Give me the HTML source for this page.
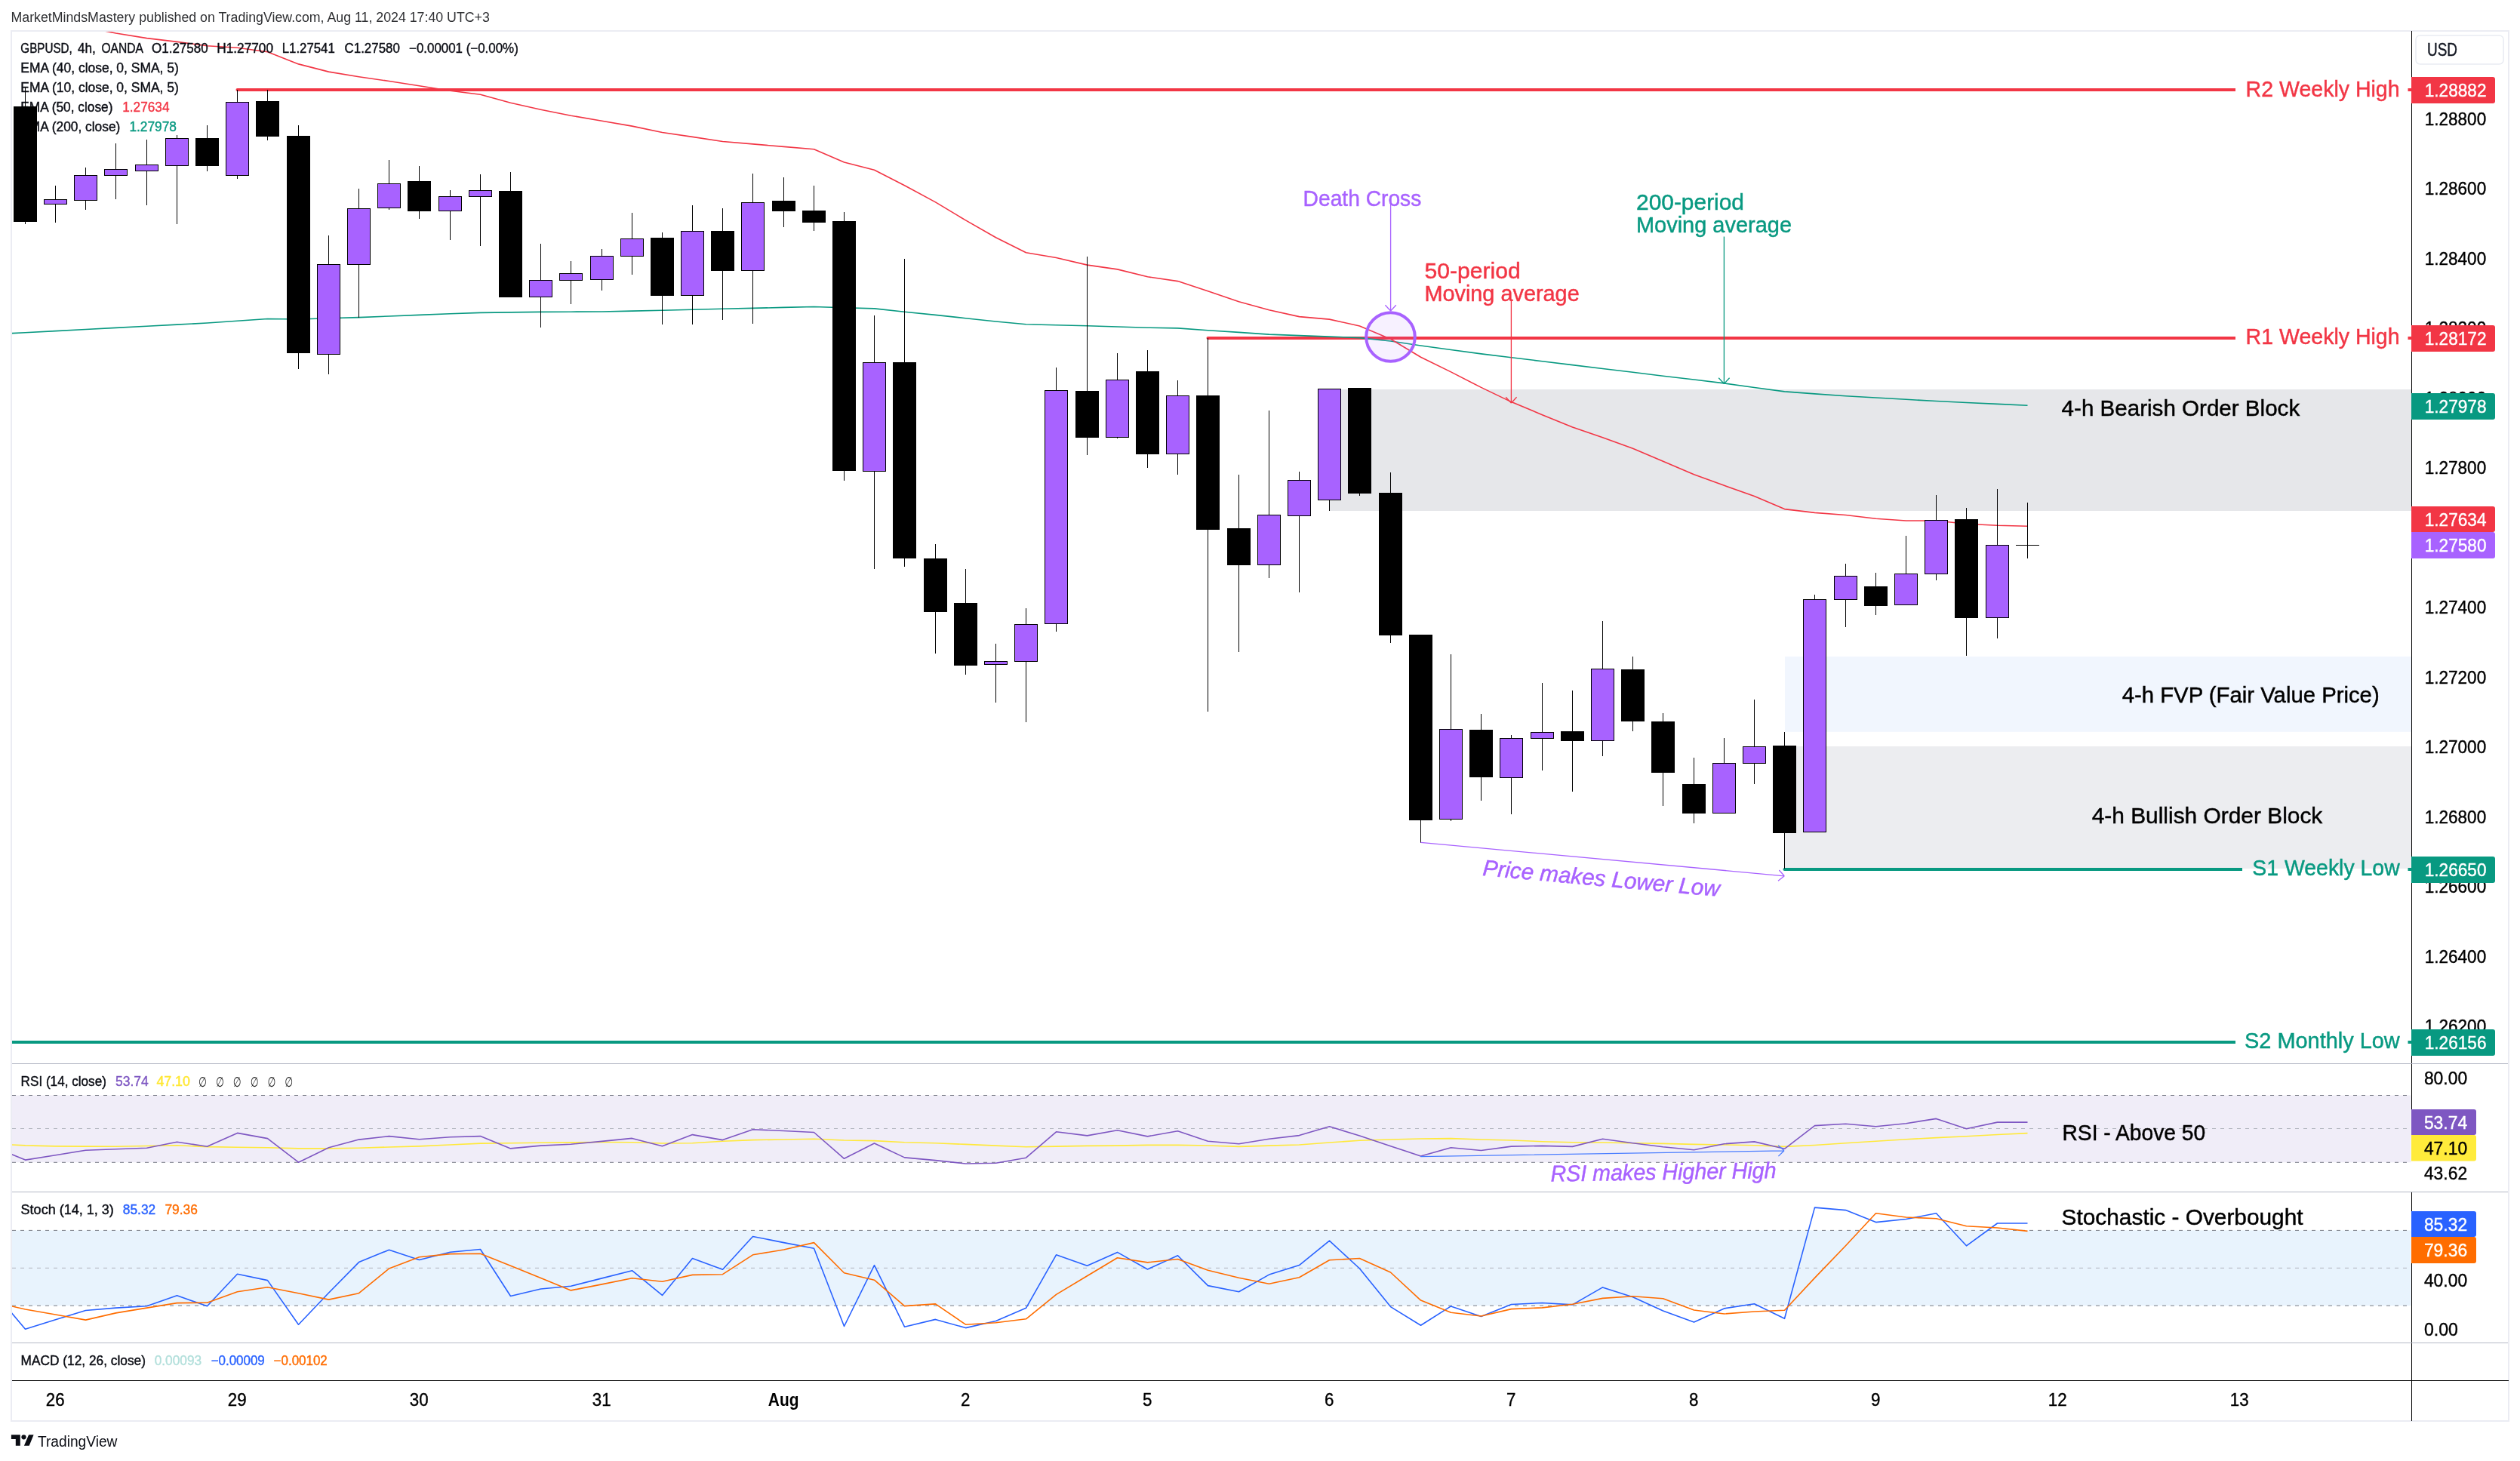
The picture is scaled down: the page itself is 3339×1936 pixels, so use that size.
<!DOCTYPE html>
<html lang="en"><head><meta charset="utf-8"><title>GBPUSD 4h chart</title>
<style>html,body{margin:0;padding:0;background:#fff}body{width:3339px;height:1936px;overflow:hidden}</style>
</head><body>
<svg width="3339" height="1936" viewBox="0 0 3339 1936" font-family='"Liberation Sans", "DejaVu Sans", sans-serif' style="display:block;will-change:transform">
<defs><clipPath id="cm"><rect x="16" y="42" width="3179" height="1367"/></clipPath><clipPath id="cr"><rect x="16" y="1410" width="3179" height="169"/></clipPath><clipPath id="cs"><rect x="16" y="1580" width="3179" height="199"/></clipPath></defs>
<text x="14.5" y="29.2" font-size="18" fill="#2f3033" textLength="634.3" lengthAdjust="spacingAndGlyphs">MarketMindsMastery published on TradingView.com, Aug 11, 2024 17:40 UTC+3</text>
<rect x="15" y="41" width="3309" height="1842" fill="none" stroke="#ebecf3" stroke-width="2"/>
<g clip-path="url(#cm)">
<rect x="1762" y="516" width="1433" height="161" fill="#e6e7ea"/>
<rect x="2365" y="870" width="830" height="99.8" fill="#f1f6fe"/>
<rect x="2365" y="989" width="830" height="162" fill="#ecedf0"/>
<line x1="314.5" y1="119" x2="2962" y2="119" stroke="#f23645" stroke-width="4"/>
<circle cx="314.5" cy="119" r="2" fill="#f23645"/>
<line x1="1600.5" y1="448" x2="2962" y2="448" stroke="#f23645" stroke-width="4"/>
<circle cx="1600.5" cy="448" r="2" fill="#f23645"/>
<line x1="2364.5" y1="1152" x2="2971" y2="1152" stroke="#089981" stroke-width="4"/>
<circle cx="2364.5" cy="1152" r="2" fill="#089981"/>
<line x1="10" y1="1381" x2="2962" y2="1381" stroke="#089981" stroke-width="4"/>
<circle cx="10" cy="1381" r="2" fill="#089981"/>
<line x1="3190.5" y1="119" x2="3196" y2="119" stroke="#f23645" stroke-width="4"/>
<line x1="3190.5" y1="448" x2="3196" y2="448" stroke="#f23645" stroke-width="4"/>
<line x1="3190.5" y1="1152" x2="3196" y2="1152" stroke="#089981" stroke-width="4"/>
<line x1="3190.5" y1="1381" x2="3196" y2="1381" stroke="#089981" stroke-width="4"/>
<polyline points="15.3,441.7 33.5,440.8 73.5,438.6 113.5,436.5 153.5,434.4 194.5,432.2 234.5,430.1 274.5,428.0 314.5,425.2 354.5,422.5 395.5,423.0 435.5,421.8 475.5,420.6 515.5,419.0 555.5,417.4 596.5,415.8 636.5,414.4 676.5,413.9 716.5,413.4 756.5,413.2 797.5,413.0 837.5,412.1 877.5,411.2 917.5,410.3 957.5,409.3 997.5,408.4 1038.5,407.4 1078.5,406.5 1118.5,407.7 1158.5,408.9 1198.5,413.2 1239.5,417.4 1279.5,421.7 1319.5,426.0 1359.5,429.8 1399.5,430.8 1440.5,431.8 1480.5,433.0 1520.5,434.2 1560.5,434.9 1600.5,437.8 1641.5,440.4 1681.5,443.1 1721.5,444.6 1761.5,446.1 1801.5,447.6 1842.5,452.0 1882.5,458.0 1922.5,463.5 1962.5,468.9 2002.5,473.8 2043.5,478.7 2083.5,483.6 2123.5,488.5 2163.5,493.3 2203.5,498.2 2244.5,503.0 2284.5,507.9 2324.5,513.5 2364.5,518.9 2404.5,521.9 2445.5,524.7 2485.5,527.0 2525.5,529.3 2565.5,531.5 2605.5,533.5 2646.5,535.4 2686.5,537.2" fill="none" stroke="#089981" stroke-width="1.6" stroke-linejoin="round"/>
<polyline points="113.5,36.0 153.5,44.0 194.5,50.6 234.5,55.4 274.5,60.8 314.5,63.3 354.5,68.7 395.5,84.9 435.5,95.1 475.5,101.7 515.5,107.5 555.5,113.8 596.5,120.2 636.5,125.2 676.5,136.3 716.5,145.2 756.5,153.2 797.5,160.2 837.5,167.1 877.5,175.5 917.5,181.4 957.5,187.5 997.5,190.9 1038.5,194.4 1078.5,197.8 1118.5,214.9 1158.5,225.2 1198.5,245.7 1239.5,267.9 1279.5,291.9 1319.5,314.8 1359.5,334.7 1399.5,341.5 1440.5,351.1 1480.5,356.9 1520.5,366.8 1560.5,372.6 1600.5,385.7 1641.5,399.8 1681.5,410.7 1721.5,419.6 1761.5,423.1 1801.5,432.0 1842.5,449.3 1882.5,473.2 1922.5,492.9 1962.5,513.4 2002.5,532.6 2043.5,549.7 2083.5,566.1 2123.5,579.8 2163.5,594.2 2203.5,611.3 2244.5,628.8 2284.5,643.3 2324.5,657.5 2364.5,674.6 2404.5,679.4 2445.5,682.5 2485.5,687.3 2525.5,690.0 2565.5,690.0 2605.5,694.3 2646.5,696.3 2686.5,697.2" fill="none" stroke="#f23645" stroke-width="1.6" stroke-linejoin="round"/>
<text x="27.3" y="69.8" font-size="18" fill="#0b0d14" stroke="#0b0d14" stroke-width="0.4" textLength="68.5" lengthAdjust="spacingAndGlyphs">GBPUSD,</text>
<text x="103.0" y="69.8" font-size="18" fill="#0b0d14" stroke="#0b0d14" stroke-width="0.4" textLength="23.8" lengthAdjust="spacingAndGlyphs">4h,</text>
<text x="134.5" y="69.8" font-size="18" fill="#0b0d14" stroke="#0b0d14" stroke-width="0.4" textLength="55.3" lengthAdjust="spacingAndGlyphs">OANDA</text>
<text x="201.0" y="69.8" font-size="18" fill="#0b0d14" stroke="#0b0d14" stroke-width="0.4" textLength="74.7" lengthAdjust="spacingAndGlyphs">O1.27580</text>
<text x="287.3" y="69.8" font-size="18" fill="#0b0d14" stroke="#0b0d14" stroke-width="0.4" textLength="74.7" lengthAdjust="spacingAndGlyphs">H1.27700</text>
<text x="373.7" y="69.8" font-size="18" fill="#0b0d14" stroke="#0b0d14" stroke-width="0.4" textLength="70.1" lengthAdjust="spacingAndGlyphs">L1.27541</text>
<text x="456.6" y="69.8" font-size="18" fill="#0b0d14" stroke="#0b0d14" stroke-width="0.4" textLength="73.2" lengthAdjust="spacingAndGlyphs">C1.27580</text>
<text x="542.0" y="69.8" font-size="18" fill="#0b0d14" stroke="#0b0d14" stroke-width="0.4" textLength="144.8" lengthAdjust="spacingAndGlyphs">−0.00001 (−0.00%)</text>
<text x="27.3" y="96.0" font-size="18" fill="#0b0d14" stroke="#0b0d14" stroke-width="0.4" textLength="209.5" lengthAdjust="spacingAndGlyphs">EMA (40, close, 0, SMA, 5)</text>
<text x="27.3" y="122.0" font-size="18" fill="#0b0d14" stroke="#0b0d14" stroke-width="0.4" textLength="209.5" lengthAdjust="spacingAndGlyphs">EMA (10, close, 0, SMA, 5)</text>
<text x="27.3" y="147.9" font-size="18" fill="#0b0d14" stroke="#0b0d14" stroke-width="0.4" textLength="122.2" lengthAdjust="spacingAndGlyphs">EMA (50, close)</text>
<text x="162.2" y="147.9" font-size="18" fill="#f23645" stroke="#f23645" stroke-width="0.4" textLength="62.3" lengthAdjust="spacingAndGlyphs">1.27634</text>
<text x="27.3" y="173.7" font-size="18" fill="#0b0d14" stroke="#0b0d14" stroke-width="0.4" textLength="132.0" lengthAdjust="spacingAndGlyphs">EMA (200, close)</text>
<text x="171.4" y="173.7" font-size="18" fill="#089981" stroke="#089981" stroke-width="0.4" textLength="62.6" lengthAdjust="spacingAndGlyphs">1.27978</text>
<g shape-rendering="crispEdges">
<rect x="33" y="116" width="1" height="181" fill="#000"/>
<rect x="18" y="141" width="31" height="153" fill="#000"/>
<rect x="73" y="246" width="1" height="49" fill="#000"/>
<rect x="58" y="264" width="31" height="7" fill="#000"/>
<rect x="59" y="265" width="29" height="5" fill="#a862ff"/>
<rect x="113" y="222" width="1" height="56" fill="#000"/>
<rect x="98" y="232" width="31" height="34" fill="#000"/>
<rect x="99" y="233" width="29" height="32" fill="#a862ff"/>
<rect x="153" y="190" width="1" height="74" fill="#000"/>
<rect x="138" y="224" width="31" height="9" fill="#000"/>
<rect x="139" y="225" width="29" height="7" fill="#a862ff"/>
<rect x="194" y="185" width="1" height="87" fill="#000"/>
<rect x="179" y="218" width="31" height="9" fill="#000"/>
<rect x="180" y="219" width="29" height="7" fill="#a862ff"/>
<rect x="234" y="179" width="1" height="118" fill="#000"/>
<rect x="219" y="183" width="31" height="37" fill="#000"/>
<rect x="220" y="184" width="29" height="35" fill="#a862ff"/>
<rect x="274" y="166" width="1" height="61" fill="#000"/>
<rect x="259" y="183" width="31" height="37" fill="#000"/>
<rect x="314" y="119" width="1" height="118" fill="#000"/>
<rect x="299" y="135" width="31" height="98" fill="#000"/>
<rect x="300" y="136" width="29" height="96" fill="#a862ff"/>
<rect x="354" y="119" width="1" height="67" fill="#000"/>
<rect x="339" y="134" width="31" height="47" fill="#000"/>
<rect x="395" y="166" width="1" height="323" fill="#000"/>
<rect x="380" y="180" width="31" height="288" fill="#000"/>
<rect x="435" y="312" width="1" height="184" fill="#000"/>
<rect x="420" y="350" width="31" height="120" fill="#000"/>
<rect x="421" y="351" width="29" height="118" fill="#a862ff"/>
<rect x="475" y="250" width="1" height="171" fill="#000"/>
<rect x="460" y="276" width="31" height="75" fill="#000"/>
<rect x="461" y="277" width="29" height="73" fill="#a862ff"/>
<rect x="515" y="212" width="1" height="66" fill="#000"/>
<rect x="500" y="243" width="31" height="33" fill="#000"/>
<rect x="501" y="244" width="29" height="31" fill="#a862ff"/>
<rect x="555" y="220" width="1" height="70" fill="#000"/>
<rect x="540" y="240" width="31" height="40" fill="#000"/>
<rect x="596" y="252" width="1" height="66" fill="#000"/>
<rect x="581" y="260" width="31" height="20" fill="#000"/>
<rect x="582" y="261" width="29" height="18" fill="#a862ff"/>
<rect x="636" y="231" width="1" height="95" fill="#000"/>
<rect x="621" y="252" width="31" height="9" fill="#000"/>
<rect x="622" y="253" width="29" height="7" fill="#a862ff"/>
<rect x="676" y="228" width="1" height="166" fill="#000"/>
<rect x="661" y="253" width="31" height="141" fill="#000"/>
<rect x="716" y="323" width="1" height="111" fill="#000"/>
<rect x="701" y="371" width="31" height="23" fill="#000"/>
<rect x="702" y="372" width="29" height="21" fill="#a862ff"/>
<rect x="756" y="346" width="1" height="57" fill="#000"/>
<rect x="741" y="362" width="31" height="10" fill="#000"/>
<rect x="742" y="363" width="29" height="8" fill="#a862ff"/>
<rect x="797" y="330" width="1" height="55" fill="#000"/>
<rect x="782" y="339" width="31" height="32" fill="#000"/>
<rect x="783" y="340" width="29" height="30" fill="#a862ff"/>
<rect x="837" y="282" width="1" height="82" fill="#000"/>
<rect x="822" y="316" width="31" height="24" fill="#000"/>
<rect x="823" y="317" width="29" height="22" fill="#a862ff"/>
<rect x="877" y="308" width="1" height="122" fill="#000"/>
<rect x="862" y="315" width="31" height="77" fill="#000"/>
<rect x="917" y="272" width="1" height="158" fill="#000"/>
<rect x="902" y="306" width="31" height="86" fill="#000"/>
<rect x="903" y="307" width="29" height="84" fill="#a862ff"/>
<rect x="957" y="276" width="1" height="148" fill="#000"/>
<rect x="942" y="306" width="31" height="53" fill="#000"/>
<rect x="997" y="230" width="1" height="199" fill="#000"/>
<rect x="982" y="268" width="31" height="91" fill="#000"/>
<rect x="983" y="269" width="29" height="89" fill="#a862ff"/>
<rect x="1038" y="235" width="1" height="66" fill="#000"/>
<rect x="1023" y="266" width="31" height="14" fill="#000"/>
<rect x="1078" y="246" width="1" height="60" fill="#000"/>
<rect x="1063" y="279" width="31" height="16" fill="#000"/>
<rect x="1118" y="281" width="1" height="356" fill="#000"/>
<rect x="1103" y="293" width="31" height="331" fill="#000"/>
<rect x="1158" y="418" width="1" height="336" fill="#000"/>
<rect x="1143" y="480" width="31" height="145" fill="#000"/>
<rect x="1144" y="481" width="29" height="143" fill="#a862ff"/>
<rect x="1198" y="343" width="1" height="408" fill="#000"/>
<rect x="1183" y="480" width="31" height="260" fill="#000"/>
<rect x="1239" y="721" width="1" height="145" fill="#000"/>
<rect x="1224" y="740" width="31" height="71" fill="#000"/>
<rect x="1279" y="754" width="1" height="140" fill="#000"/>
<rect x="1264" y="799" width="31" height="83" fill="#000"/>
<rect x="1319" y="853" width="1" height="78" fill="#000"/>
<rect x="1304" y="876" width="31" height="5" fill="#000"/>
<rect x="1305" y="877" width="29" height="3" fill="#a862ff"/>
<rect x="1359" y="806" width="1" height="151" fill="#000"/>
<rect x="1344" y="827" width="31" height="50" fill="#000"/>
<rect x="1345" y="828" width="29" height="48" fill="#a862ff"/>
<rect x="1399" y="487" width="1" height="350" fill="#000"/>
<rect x="1384" y="517" width="31" height="310" fill="#000"/>
<rect x="1385" y="518" width="29" height="308" fill="#a862ff"/>
<rect x="1440" y="340" width="1" height="263" fill="#000"/>
<rect x="1425" y="518" width="31" height="62" fill="#000"/>
<rect x="1480" y="468" width="1" height="113" fill="#000"/>
<rect x="1465" y="503" width="31" height="77" fill="#000"/>
<rect x="1466" y="504" width="29" height="75" fill="#a862ff"/>
<rect x="1520" y="464" width="1" height="156" fill="#000"/>
<rect x="1505" y="492" width="31" height="110" fill="#000"/>
<rect x="1560" y="504" width="1" height="125" fill="#000"/>
<rect x="1545" y="524" width="31" height="78" fill="#000"/>
<rect x="1546" y="525" width="29" height="76" fill="#a862ff"/>
<rect x="1600" y="448" width="1" height="495" fill="#000"/>
<rect x="1585" y="524" width="31" height="178" fill="#000"/>
<rect x="1641" y="629" width="1" height="235" fill="#000"/>
<rect x="1626" y="700" width="31" height="49" fill="#000"/>
<rect x="1681" y="544" width="1" height="222" fill="#000"/>
<rect x="1666" y="682" width="31" height="67" fill="#000"/>
<rect x="1667" y="683" width="29" height="65" fill="#a862ff"/>
<rect x="1721" y="625" width="1" height="160" fill="#000"/>
<rect x="1706" y="636" width="31" height="48" fill="#000"/>
<rect x="1707" y="637" width="29" height="46" fill="#a862ff"/>
<rect x="1761" y="515" width="1" height="162" fill="#000"/>
<rect x="1746" y="515" width="31" height="148" fill="#000"/>
<rect x="1747" y="516" width="29" height="146" fill="#a862ff"/>
<rect x="1801" y="514" width="1" height="143" fill="#000"/>
<rect x="1786" y="514" width="31" height="140" fill="#000"/>
<rect x="1842" y="626" width="1" height="226" fill="#000"/>
<rect x="1827" y="653" width="31" height="189" fill="#000"/>
<rect x="1882" y="841" width="1" height="276" fill="#000"/>
<rect x="1867" y="841" width="31" height="246" fill="#000"/>
<rect x="1922" y="867" width="1" height="221" fill="#000"/>
<rect x="1907" y="966" width="31" height="120" fill="#000"/>
<rect x="1908" y="967" width="29" height="118" fill="#a862ff"/>
<rect x="1962" y="946" width="1" height="115" fill="#000"/>
<rect x="1947" y="967" width="31" height="63" fill="#000"/>
<rect x="2002" y="974" width="1" height="105" fill="#000"/>
<rect x="1987" y="978" width="31" height="53" fill="#000"/>
<rect x="1988" y="979" width="29" height="51" fill="#a862ff"/>
<rect x="2043" y="905" width="1" height="116" fill="#000"/>
<rect x="2028" y="970" width="31" height="9" fill="#000"/>
<rect x="2029" y="971" width="29" height="7" fill="#a862ff"/>
<rect x="2083" y="915" width="1" height="134" fill="#000"/>
<rect x="2068" y="969" width="31" height="13" fill="#000"/>
<rect x="2123" y="823" width="1" height="179" fill="#000"/>
<rect x="2108" y="886" width="31" height="96" fill="#000"/>
<rect x="2109" y="887" width="29" height="94" fill="#a862ff"/>
<rect x="2163" y="870" width="1" height="99" fill="#000"/>
<rect x="2148" y="887" width="31" height="69" fill="#000"/>
<rect x="2203" y="945" width="1" height="123" fill="#000"/>
<rect x="2188" y="956" width="31" height="68" fill="#000"/>
<rect x="2244" y="1004" width="1" height="87" fill="#000"/>
<rect x="2229" y="1039" width="31" height="39" fill="#000"/>
<rect x="2284" y="978" width="1" height="99" fill="#000"/>
<rect x="2269" y="1011" width="31" height="67" fill="#000"/>
<rect x="2270" y="1012" width="29" height="65" fill="#a862ff"/>
<rect x="2324" y="927" width="1" height="112" fill="#000"/>
<rect x="2309" y="989" width="31" height="23" fill="#000"/>
<rect x="2310" y="990" width="29" height="21" fill="#a862ff"/>
<rect x="2364" y="970" width="1" height="181" fill="#000"/>
<rect x="2349" y="988" width="31" height="116" fill="#000"/>
<rect x="2404" y="788" width="1" height="315" fill="#000"/>
<rect x="2389" y="794" width="31" height="309" fill="#000"/>
<rect x="2390" y="795" width="29" height="307" fill="#a862ff"/>
<rect x="2445" y="747" width="1" height="84" fill="#000"/>
<rect x="2430" y="763" width="31" height="32" fill="#000"/>
<rect x="2431" y="764" width="29" height="30" fill="#a862ff"/>
<rect x="2485" y="759" width="1" height="56" fill="#000"/>
<rect x="2470" y="777" width="31" height="26" fill="#000"/>
<rect x="2525" y="710" width="1" height="92" fill="#000"/>
<rect x="2510" y="760" width="31" height="42" fill="#000"/>
<rect x="2511" y="761" width="29" height="40" fill="#a862ff"/>
<rect x="2565" y="656" width="1" height="113" fill="#000"/>
<rect x="2550" y="689" width="31" height="72" fill="#000"/>
<rect x="2551" y="690" width="29" height="70" fill="#a862ff"/>
<rect x="2605" y="673" width="1" height="196" fill="#000"/>
<rect x="2590" y="688" width="31" height="131" fill="#000"/>
<rect x="2646" y="648" width="1" height="198" fill="#000"/>
<rect x="2631" y="722" width="31" height="97" fill="#000"/>
<rect x="2632" y="723" width="29" height="95" fill="#a862ff"/>
<rect x="2686" y="666" width="1" height="74" fill="#000"/>
<rect x="2671" y="722" width="31" height="1" fill="#000"/>
</g>
<circle cx="1842.5" cy="446.5" r="32.3" fill="#a862ff" fill-opacity="0.09" stroke="#a862ff" stroke-width="4"/>
<path d="M1842.6,261.0 L1842.6,412.0 M1835.4,404.3 L1842.6,412.0 M1849.8,404.3 L1842.6,412.0" fill="none" stroke="#a862ff" stroke-width="1.3"/>
<path d="M2002.4,399.0 L2002.4,534.0 M1995.2,526.3 L2002.4,534.0 M2009.6,526.3 L2002.4,534.0" fill="none" stroke="#f23645" stroke-width="1.3"/>
<path d="M2284.4,313.5 L2284.4,508.5 M2277.2,500.8 L2284.4,508.5 M2291.6,500.8 L2284.4,508.5" fill="none" stroke="#089981" stroke-width="1.3"/>
<path d="M1882.5,1116.3 L2364.3,1160.8 M2356.0,1167.2 L2364.3,1160.8 M2357.3,1153.0 L2364.3,1160.8" fill="none" stroke="#a862ff" stroke-width="1.3"/>
<text x="1726.6" y="273.2" font-size="30" fill="#a862ff" stroke="#a862ff" stroke-width="0.45" textLength="156.7" lengthAdjust="spacingAndGlyphs">Death Cross</text>
<text x="1887.4" y="369.0" font-size="30" fill="#f23645" stroke="#f23645" stroke-width="0.45" textLength="127.3" lengthAdjust="spacingAndGlyphs">50-period</text>
<text x="1887.4" y="399.1" font-size="30" fill="#f23645" stroke="#f23645" stroke-width="0.45" textLength="205.3" lengthAdjust="spacingAndGlyphs">Moving average</text>
<text x="2168.0" y="278.3" font-size="30" fill="#089981" stroke="#089981" stroke-width="0.45" textLength="143.0" lengthAdjust="spacingAndGlyphs">200-period</text>
<text x="2168.0" y="308.1" font-size="30" fill="#089981" stroke="#089981" stroke-width="0.45" textLength="206.0" lengthAdjust="spacingAndGlyphs">Moving average</text>
<text x="2975.6" y="127.6" font-size="30" fill="#f23645" stroke="#f23645" stroke-width="0.45" textLength="204.0" lengthAdjust="spacingAndGlyphs">R2 Weekly High</text>
<text x="2975.6" y="456.4" font-size="30" fill="#f23645" stroke="#f23645" stroke-width="0.45" textLength="204.0" lengthAdjust="spacingAndGlyphs">R1 Weekly High</text>
<text x="2731.6" y="550.8" font-size="30" fill="#000" stroke="#000" stroke-width="0.45" textLength="315.6" lengthAdjust="spacingAndGlyphs">4-h Bearish Order Block</text>
<text x="2811.7" y="930.7" font-size="30" fill="#000" stroke="#000" stroke-width="0.45" textLength="341.0" lengthAdjust="spacingAndGlyphs">4-h FVP (Fair Value Price)</text>
<text x="2771.7" y="1090.9" font-size="30" fill="#000" stroke="#000" stroke-width="0.45" textLength="305.6" lengthAdjust="spacingAndGlyphs">4-h Bullish Order Block</text>
<text x="2984.3" y="1160.2" font-size="30" fill="#089981" stroke="#089981" stroke-width="0.45" textLength="195.4" lengthAdjust="spacingAndGlyphs">S1 Weekly Low</text>
<text x="2974.0" y="1389.4" font-size="30" fill="#089981" stroke="#089981" stroke-width="0.45" textLength="205.7" lengthAdjust="spacingAndGlyphs">S2 Monthly Low</text>
<text x="1964.0" y="1160.0" font-size="30" fill="#a862ff" stroke="#a862ff" stroke-width="0.45" textLength="315.0" lengthAdjust="spacingAndGlyphs" font-style="italic" transform="rotate(5.1 1964 1160)">Price makes Lower Low</text>
</g>
<rect x="16" y="1451.5" width="3178.5" height="88.8" fill="#f0edf8"/>
<line x1="16" y1="1451.5" x2="3195" y2="1451.5" stroke="#787b86" stroke-width="1" stroke-dasharray="5 6"/>
<line x1="16" y1="1495.5" x2="3195" y2="1495.5" stroke="#b2b5be" stroke-width="1" stroke-dasharray="5 6"/>
<line x1="16" y1="1540.3" x2="3195" y2="1540.3" stroke="#787b86" stroke-width="1" stroke-dasharray="5 6"/>
<g clip-path="url(#cr)">
<polyline points="15.2,1517.0 33.5,1517.9 73.5,1518.9 113.5,1519.1 153.5,1519.3 194.5,1518.5 234.5,1517.7 274.5,1519.6 314.5,1520.2 354.5,1520.8 395.5,1521.9 435.5,1521.9 475.5,1521.2 515.5,1520.0 555.5,1518.9 596.5,1517.0 636.5,1515.1 676.5,1514.7 716.5,1514.3 756.5,1513.9 797.5,1513.5 837.5,1513.7 877.5,1515.0 917.5,1514.7 957.5,1512.3 997.5,1510.6 1038.5,1510.0 1078.5,1509.3 1118.5,1511.0 1158.5,1511.6 1198.5,1513.7 1239.5,1514.7 1279.5,1516.4 1319.5,1518.1 1359.5,1519.7 1399.5,1519.1 1440.5,1518.4 1480.5,1518.1 1520.5,1517.4 1560.5,1517.4 1600.5,1518.0 1641.5,1519.4 1681.5,1518.1 1721.5,1517.0 1761.5,1514.0 1801.5,1511.3 1842.5,1510.0 1882.5,1509.0 1922.5,1508.6 1962.5,1510.0 2002.5,1511.0 2043.5,1512.7 2083.5,1513.7 2123.5,1514.0 2163.5,1514.7 2203.5,1515.4 2244.5,1516.4 2284.5,1517.0 2324.5,1517.8 2364.5,1519.4 2404.5,1517.5 2445.5,1514.7 2485.5,1512.3 2525.5,1509.8 2565.5,1507.6 2605.5,1505.7 2646.5,1503.5 2686.5,1501.6" fill="none" stroke="#ffe93b" stroke-width="1.6" stroke-linejoin="round"/>
<polyline points="15.2,1529.5 33.5,1537.1 73.5,1530.7 113.5,1524.2 153.5,1522.7 194.5,1521.2 234.5,1513.2 274.5,1519.3 314.5,1501.4 354.5,1508.6 395.5,1540.2 435.5,1520.8 475.5,1510.1 515.5,1505.6 555.5,1509.7 596.5,1506.7 636.5,1505.6 676.5,1521.9 716.5,1518.1 756.5,1516.2 797.5,1512.4 837.5,1508.4 877.5,1518.7 917.5,1503.6 957.5,1510.6 997.5,1496.8 1038.5,1498.5 1078.5,1500.5 1118.5,1535.3 1158.5,1515.0 1198.5,1533.9 1239.5,1537.6 1279.5,1542.0 1319.5,1541.3 1359.5,1534.2 1399.5,1499.8 1440.5,1504.9 1480.5,1497.8 1520.5,1505.9 1560.5,1498.8 1600.5,1512.3 1641.5,1515.7 1681.5,1509.3 1721.5,1504.6 1761.5,1492.8 1801.5,1504.9 1842.5,1518.7 1882.5,1531.9 1922.5,1520.8 1962.5,1524.5 2002.5,1519.1 2043.5,1518.4 2083.5,1519.4 2123.5,1509.3 2163.5,1514.7 2203.5,1519.7 2244.5,1523.8 2284.5,1515.7 2324.5,1512.9 2364.5,1522.3 2404.5,1491.6 2445.5,1489.2 2485.5,1492.8 2525.5,1488.7 2565.5,1482.4 2605.5,1495.8 2646.5,1487.1 2686.5,1487.1" fill="none" stroke="#7e57c2" stroke-width="1.6" stroke-linejoin="round"/>
<path d="M1882.3,1532.6 L2364.0,1524.8 M2356.4,1532.1 L2364.0,1524.8 M2356.2,1517.8 L2364.0,1524.8" fill="none" stroke="#4a7dff" stroke-width="1.3"/>
<text x="2054.7" y="1565.6" font-size="30" fill="#a862ff" stroke="#a862ff" stroke-width="0.45" textLength="299.0" lengthAdjust="spacingAndGlyphs" font-style="italic" transform="rotate(-0.9 2054.7 1565.6)">RSI makes Higher High</text>
<text x="2732.5" y="1511.4" font-size="30" fill="#000" stroke="#000" stroke-width="0.45" textLength="189.7" lengthAdjust="spacingAndGlyphs">RSI - Above 50</text>
</g>
<text x="27.6" y="1439.0" font-size="18" fill="#0b0d14" stroke="#0b0d14" stroke-width="0.4" textLength="113.3" lengthAdjust="spacingAndGlyphs">RSI (14, close)</text>
<text x="153.0" y="1439.0" font-size="18" fill="#7e57c2" stroke="#7e57c2" stroke-width="0.4" textLength="43.7" lengthAdjust="spacingAndGlyphs">53.74</text>
<text x="207.4" y="1439.0" font-size="18" fill="#ffe733" stroke="#ffe733" stroke-width="0.4" textLength="44.5" lengthAdjust="spacingAndGlyphs">47.10</text>
<text x="263.3" y="1439.8" font-size="18" fill="#222" textLength="10.6" lengthAdjust="spacingAndGlyphs" font-family='"DejaVu Sans", "Liberation Sans", sans-serif'>∅</text>
<text x="286.2" y="1439.8" font-size="18" fill="#222" textLength="10.6" lengthAdjust="spacingAndGlyphs" font-family='"DejaVu Sans", "Liberation Sans", sans-serif'>∅</text>
<text x="309.0" y="1439.8" font-size="18" fill="#222" textLength="10.6" lengthAdjust="spacingAndGlyphs" font-family='"DejaVu Sans", "Liberation Sans", sans-serif'>∅</text>
<text x="331.9" y="1439.8" font-size="18" fill="#222" textLength="10.6" lengthAdjust="spacingAndGlyphs" font-family='"DejaVu Sans", "Liberation Sans", sans-serif'>∅</text>
<text x="354.7" y="1439.8" font-size="18" fill="#222" textLength="10.6" lengthAdjust="spacingAndGlyphs" font-family='"DejaVu Sans", "Liberation Sans", sans-serif'>∅</text>
<text x="377.6" y="1439.8" font-size="18" fill="#222" textLength="10.6" lengthAdjust="spacingAndGlyphs" font-family='"DejaVu Sans", "Liberation Sans", sans-serif'>∅</text>
<rect x="16" y="1630.4" width="3178.5" height="99.8" fill="#e8f3fd"/>
<line x1="16" y1="1630.4" x2="3195" y2="1630.4" stroke="#787b86" stroke-width="1" stroke-dasharray="5 6"/>
<line x1="16" y1="1680.3" x2="3195" y2="1680.3" stroke="#b2b5be" stroke-width="1" stroke-dasharray="5 6"/>
<line x1="16" y1="1730.2" x2="3195" y2="1730.2" stroke="#787b86" stroke-width="1" stroke-dasharray="5 6"/>
<g clip-path="url(#cs)">
<polyline points="15.2,1739.6 33.5,1761.2 73.5,1748.7 113.5,1736.5 153.5,1733.1 194.5,1730.8 234.5,1716.7 274.5,1730.8 314.5,1688.2 354.5,1696.6 395.5,1755.2 435.5,1713.3 475.5,1672.6 515.5,1656.2 555.5,1669.5 596.5,1659.3 636.5,1655.5 676.5,1717.5 716.5,1708.0 756.5,1704.2 797.5,1693.9 837.5,1683.7 877.5,1716.4 917.5,1667.5 957.5,1682.3 997.5,1638.5 1038.5,1646.6 1078.5,1654.3 1118.5,1757.5 1158.5,1676.6 1198.5,1758.2 1239.5,1748.4 1279.5,1759.6 1319.5,1750.5 1359.5,1733.3 1399.5,1662.8 1440.5,1677.3 1480.5,1659.4 1520.5,1682.0 1560.5,1663.8 1600.5,1703.6 1641.5,1711.8 1681.5,1689.1 1721.5,1676.6 1761.5,1644.2 1801.5,1681.0 1842.5,1731.6 1882.5,1756.2 1922.5,1730.9 1962.5,1744.4 2002.5,1728.5 2043.5,1726.5 2083.5,1728.9 2123.5,1705.9 2163.5,1718.7 2203.5,1737.0 2244.5,1752.1 2284.5,1733.9 2324.5,1727.7 2364.5,1747.3 2404.5,1600.1 2445.5,1603.6 2485.5,1619.6 2525.5,1615.5 2565.5,1607.8 2605.5,1650.8 2646.5,1621.0 2686.5,1621.0" fill="none" stroke="#2962ff" stroke-width="1.6" stroke-linejoin="round"/>
<polyline points="15.2,1730.8 33.5,1735.0 73.5,1742.0 113.5,1749.1 153.5,1739.9 194.5,1733.1 234.5,1726.6 274.5,1726.2 314.5,1711.8 354.5,1705.7 395.5,1713.7 435.5,1722.1 475.5,1713.7 515.5,1681.0 555.5,1665.7 596.5,1661.6 636.5,1661.2 676.5,1677.2 716.5,1693.5 756.5,1709.9 797.5,1701.9 837.5,1693.8 877.5,1698.2 917.5,1689.4 957.5,1688.7 997.5,1662.8 1038.5,1656.0 1078.5,1646.6 1118.5,1686.7 1158.5,1696.2 1198.5,1730.6 1239.5,1727.9 1279.5,1755.2 1319.5,1752.8 1359.5,1747.8 1399.5,1715.4 1440.5,1690.8 1480.5,1666.8 1520.5,1672.9 1560.5,1668.5 1600.5,1683.3 1641.5,1693.3 1681.5,1701.2 1721.5,1692.8 1761.5,1669.8 1801.5,1667.5 1842.5,1686.0 1882.5,1723.1 1922.5,1739.3 1962.5,1744.0 2002.5,1734.6 2043.5,1732.9 2083.5,1728.2 2123.5,1720.4 2163.5,1717.7 2203.5,1720.8 2244.5,1736.0 2284.5,1741.0 2324.5,1738.0 2364.5,1736.3 2404.5,1693.4 2445.5,1650.7 2485.5,1607.8 2525.5,1613.0 2565.5,1614.7 2605.5,1624.8 2646.5,1627.0 2686.5,1631.4" fill="none" stroke="#ff6d00" stroke-width="1.6" stroke-linejoin="round"/>
<text x="2731.6" y="1623.4" font-size="30" fill="#000" stroke="#000" stroke-width="0.45" textLength="320.0" lengthAdjust="spacingAndGlyphs">Stochastic - Overbought</text>
</g>
<text x="27.6" y="1608.7" font-size="18" fill="#0b0d14" stroke="#0b0d14" stroke-width="0.4" textLength="123.2" lengthAdjust="spacingAndGlyphs">Stoch (14, 1, 3)</text>
<text x="162.8" y="1608.7" font-size="18" fill="#2962ff" stroke="#2962ff" stroke-width="0.4" textLength="43.4" lengthAdjust="spacingAndGlyphs">85.32</text>
<text x="218.4" y="1608.7" font-size="18" fill="#ff6d00" stroke="#ff6d00" stroke-width="0.4" textLength="43.4" lengthAdjust="spacingAndGlyphs">79.36</text>
<text x="27.6" y="1808.8" font-size="18" fill="#0b0d14" stroke="#0b0d14" stroke-width="0.4" textLength="165.4" lengthAdjust="spacingAndGlyphs">MACD (12, 26, close)</text>
<text x="204.7" y="1808.8" font-size="18" fill="#b2dfdb" stroke="#b2dfdb" stroke-width="0.4" textLength="62.4" lengthAdjust="spacingAndGlyphs">0.00093</text>
<text x="279.7" y="1808.8" font-size="18" fill="#2962ff" stroke="#2962ff" stroke-width="0.4" textLength="71.1" lengthAdjust="spacingAndGlyphs">−0.00009</text>
<text x="362.6" y="1808.8" font-size="18" fill="#ff6d00" stroke="#ff6d00" stroke-width="0.4" textLength="71.2" lengthAdjust="spacingAndGlyphs">−0.00102</text>
<rect x="3195" y="41" width="1" height="1497" fill="#000" shape-rendering="crispEdges"/>
<rect x="3195" y="1580" width="1" height="303" fill="#000" shape-rendering="crispEdges"/>
<rect x="16" y="1829" width="3308" height="1" fill="#000" shape-rendering="crispEdges"/>
<line x1="16" y1="1409.5" x2="3323" y2="1409.5" stroke="#b4b9c6" stroke-width="1"/>
<line x1="16" y1="1579.5" x2="3323" y2="1579.5" stroke="#b4b9c6" stroke-width="1"/>
<line x1="16" y1="1779.5" x2="3323" y2="1779.5" stroke="#b4b9c6" stroke-width="1"/>
<rect x="3201" y="46.9" width="116.1" height="38.1" rx="5.5" fill="#fff" stroke="#e9ecf2" stroke-width="1.5"/>
<text x="3216.0" y="73.7" font-size="24" fill="#131722" stroke="#131722" stroke-width="0.4" textLength="40.0" lengthAdjust="spacingAndGlyphs">USD</text>
<text x="3212.7" y="165.8" font-size="24" fill="#000" stroke="#000" stroke-width="0.4" textLength="81.5" lengthAdjust="spacingAndGlyphs">1.28800</text>
<text x="3212.7" y="258.3" font-size="24" fill="#000" stroke="#000" stroke-width="0.4" textLength="81.5" lengthAdjust="spacingAndGlyphs">1.28600</text>
<text x="3212.7" y="350.8" font-size="24" fill="#000" stroke="#000" stroke-width="0.4" textLength="81.5" lengthAdjust="spacingAndGlyphs">1.28400</text>
<text x="3212.7" y="443.3" font-size="24" fill="#000" stroke="#000" stroke-width="0.4" textLength="81.5" lengthAdjust="spacingAndGlyphs">1.28200</text>
<text x="3212.7" y="535.8" font-size="24" fill="#000" stroke="#000" stroke-width="0.4" textLength="81.5" lengthAdjust="spacingAndGlyphs">1.28000</text>
<text x="3212.7" y="628.3" font-size="24" fill="#000" stroke="#000" stroke-width="0.4" textLength="81.5" lengthAdjust="spacingAndGlyphs">1.27800</text>
<text x="3212.7" y="720.8" font-size="24" fill="#000" stroke="#000" stroke-width="0.4" textLength="81.5" lengthAdjust="spacingAndGlyphs">1.27600</text>
<text x="3212.7" y="813.3" font-size="24" fill="#000" stroke="#000" stroke-width="0.4" textLength="81.5" lengthAdjust="spacingAndGlyphs">1.27400</text>
<text x="3212.7" y="905.8" font-size="24" fill="#000" stroke="#000" stroke-width="0.4" textLength="81.5" lengthAdjust="spacingAndGlyphs">1.27200</text>
<text x="3212.7" y="998.3" font-size="24" fill="#000" stroke="#000" stroke-width="0.4" textLength="81.5" lengthAdjust="spacingAndGlyphs">1.27000</text>
<text x="3212.7" y="1090.8" font-size="24" fill="#000" stroke="#000" stroke-width="0.4" textLength="81.5" lengthAdjust="spacingAndGlyphs">1.26800</text>
<text x="3212.7" y="1183.3" font-size="24" fill="#000" stroke="#000" stroke-width="0.4" textLength="81.5" lengthAdjust="spacingAndGlyphs">1.26600</text>
<text x="3212.7" y="1275.8" font-size="24" fill="#000" stroke="#000" stroke-width="0.4" textLength="81.5" lengthAdjust="spacingAndGlyphs">1.26400</text>
<text x="3212.7" y="1368.3" font-size="24" fill="#000" stroke="#000" stroke-width="0.4" textLength="81.5" lengthAdjust="spacingAndGlyphs">1.26200</text>
<text x="3211.9" y="1437.3" font-size="24" fill="#000" stroke="#000" stroke-width="0.4" textLength="57.2" lengthAdjust="spacingAndGlyphs">80.00</text>
<text x="3211.9" y="1563.2" font-size="24" fill="#000" stroke="#000" stroke-width="0.4" textLength="57.2" lengthAdjust="spacingAndGlyphs">43.62</text>
<text x="3211.9" y="1705.0" font-size="24" fill="#000" stroke="#000" stroke-width="0.4" textLength="57.2" lengthAdjust="spacingAndGlyphs">40.00</text>
<text x="3211.9" y="1770.4" font-size="24" fill="#000" stroke="#000" stroke-width="0.4" textLength="45.0" lengthAdjust="spacingAndGlyphs">0.00</text>
<path d="M3195,102 H3303 Q3306,102 3306,105 V134 Q3306,137 3303,137 H3195 Z" fill="#f23645"/>
<text x="3212.7" y="128.2" font-size="24" fill="#fff" stroke="#fff" stroke-width="0.4" textLength="81.8" lengthAdjust="spacingAndGlyphs">1.28882</text>
<path d="M3195,431 H3303 Q3306,431 3306,434 V463 Q3306,466 3303,466 H3195 Z" fill="#f23645"/>
<text x="3212.7" y="457.2" font-size="24" fill="#fff" stroke="#fff" stroke-width="0.4" textLength="81.8" lengthAdjust="spacingAndGlyphs">1.28172</text>
<path d="M3195,521 H3303 Q3306,521 3306,524 V553 Q3306,556 3303,556 H3195 Z" fill="#089981"/>
<text x="3212.7" y="547.2" font-size="24" fill="#fff" stroke="#fff" stroke-width="0.4" textLength="81.8" lengthAdjust="spacingAndGlyphs">1.27978</text>
<path d="M3195,671 H3303 Q3306,671 3306,674 V702 Q3306,705 3303,705 H3195 Z" fill="#f23645"/>
<text x="3212.7" y="696.7" font-size="24" fill="#fff" stroke="#fff" stroke-width="0.4" textLength="81.8" lengthAdjust="spacingAndGlyphs">1.27634</text>
<path d="M3195,705 H3303 Q3306,705 3306,708 V737 Q3306,740 3303,740 H3195 Z" fill="#a862ff"/>
<text x="3212.7" y="731.2" font-size="24" fill="#fff" stroke="#fff" stroke-width="0.4" textLength="81.8" lengthAdjust="spacingAndGlyphs">1.27580</text>
<path d="M3195,1135 H3303 Q3306,1135 3306,1138 V1167 Q3306,1170 3303,1170 H3195 Z" fill="#089981"/>
<text x="3212.7" y="1161.2" font-size="24" fill="#fff" stroke="#fff" stroke-width="0.4" textLength="81.8" lengthAdjust="spacingAndGlyphs">1.26650</text>
<path d="M3195,1364 H3303 Q3306,1364 3306,1367 V1396 Q3306,1399 3303,1399 H3195 Z" fill="#089981"/>
<text x="3212.7" y="1390.2" font-size="24" fill="#fff" stroke="#fff" stroke-width="0.4" textLength="81.8" lengthAdjust="spacingAndGlyphs">1.26156</text>
<path d="M3195,1470 H3278 Q3281,1470 3281,1473 V1501 Q3281,1504 3278,1504 H3195 Z" fill="#7e57c2"/>
<text x="3211.9" y="1495.7" font-size="24" fill="#fff" stroke="#fff" stroke-width="0.4" textLength="57.2" lengthAdjust="spacingAndGlyphs">53.74</text>
<path d="M3195,1504 H3278 Q3281,1504 3281,1507 V1535.5 Q3281,1538.5 3278,1538.5 H3195 Z" fill="#ffeb3b"/>
<text x="3211.9" y="1530.0" font-size="24" fill="#000" stroke="#000" stroke-width="0.4" textLength="57.2" lengthAdjust="spacingAndGlyphs">47.10</text>
<path d="M3195,1605 H3278 Q3281,1605 3281,1608 V1636 Q3281,1639 3278,1639 H3195 Z" fill="#2962ff"/>
<text x="3211.9" y="1630.7" font-size="24" fill="#fff" stroke="#fff" stroke-width="0.4" textLength="57.2" lengthAdjust="spacingAndGlyphs">85.32</text>
<path d="M3195,1639 H3278 Q3281,1639 3281,1642 V1671 Q3281,1674 3278,1674 H3195 Z" fill="#ff6d00"/>
<text x="3211.9" y="1665.2" font-size="24" fill="#fff" stroke="#fff" stroke-width="0.4" textLength="57.2" lengthAdjust="spacingAndGlyphs">79.36</text>
<text x="73.2" y="1863.2" font-size="24" fill="#000" stroke="#000" stroke-width="0.4" textLength="24.8" lengthAdjust="spacingAndGlyphs" text-anchor="middle">26</text>
<text x="314.2" y="1863.2" font-size="24" fill="#000" stroke="#000" stroke-width="0.4" textLength="24.8" lengthAdjust="spacingAndGlyphs" text-anchor="middle">29</text>
<text x="555.2" y="1863.2" font-size="24" fill="#000" stroke="#000" stroke-width="0.4" textLength="24.8" lengthAdjust="spacingAndGlyphs" text-anchor="middle">30</text>
<text x="797.2" y="1863.2" font-size="24" fill="#000" stroke="#000" stroke-width="0.4" textLength="24.8" lengthAdjust="spacingAndGlyphs" text-anchor="middle">31</text>
<text x="1038.1" y="1863.2" font-size="24" fill="#000" textLength="40.6" lengthAdjust="spacingAndGlyphs" font-weight="bold" text-anchor="middle">Aug</text>
<text x="1279.2" y="1863.2" font-size="24" fill="#000" stroke="#000" stroke-width="0.4" textLength="12.4" lengthAdjust="spacingAndGlyphs" text-anchor="middle">2</text>
<text x="1520.2" y="1863.2" font-size="24" fill="#000" stroke="#000" stroke-width="0.4" textLength="12.4" lengthAdjust="spacingAndGlyphs" text-anchor="middle">5</text>
<text x="1761.2" y="1863.2" font-size="24" fill="#000" stroke="#000" stroke-width="0.4" textLength="12.4" lengthAdjust="spacingAndGlyphs" text-anchor="middle">6</text>
<text x="2002.2" y="1863.2" font-size="24" fill="#000" stroke="#000" stroke-width="0.4" textLength="12.4" lengthAdjust="spacingAndGlyphs" text-anchor="middle">7</text>
<text x="2244.2" y="1863.2" font-size="24" fill="#000" stroke="#000" stroke-width="0.4" textLength="12.4" lengthAdjust="spacingAndGlyphs" text-anchor="middle">8</text>
<text x="2485.2" y="1863.2" font-size="24" fill="#000" stroke="#000" stroke-width="0.4" textLength="12.4" lengthAdjust="spacingAndGlyphs" text-anchor="middle">9</text>
<text x="2726.2" y="1863.2" font-size="24" fill="#000" stroke="#000" stroke-width="0.4" textLength="24.8" lengthAdjust="spacingAndGlyphs" text-anchor="middle">12</text>
<text x="2967.2" y="1863.2" font-size="24" fill="#000" stroke="#000" stroke-width="0.4" textLength="24.8" lengthAdjust="spacingAndGlyphs" text-anchor="middle">13</text>
<path d="M14.9,1901.2 H26.8 V1915.7 H20.8 V1907.1 H14.9 Z M38.1,1901.2 H44.6 L38.7,1915.7 H31.9 Z" fill="#0b0d14"/>
<circle cx="31.5" cy="1904.3" r="3.1" fill="#0b0d14"/>
<text x="50.0" y="1916.7" font-size="20" fill="#0b0d14" textLength="105.4" lengthAdjust="spacingAndGlyphs">TradingView</text>
</svg>
</body></html>
